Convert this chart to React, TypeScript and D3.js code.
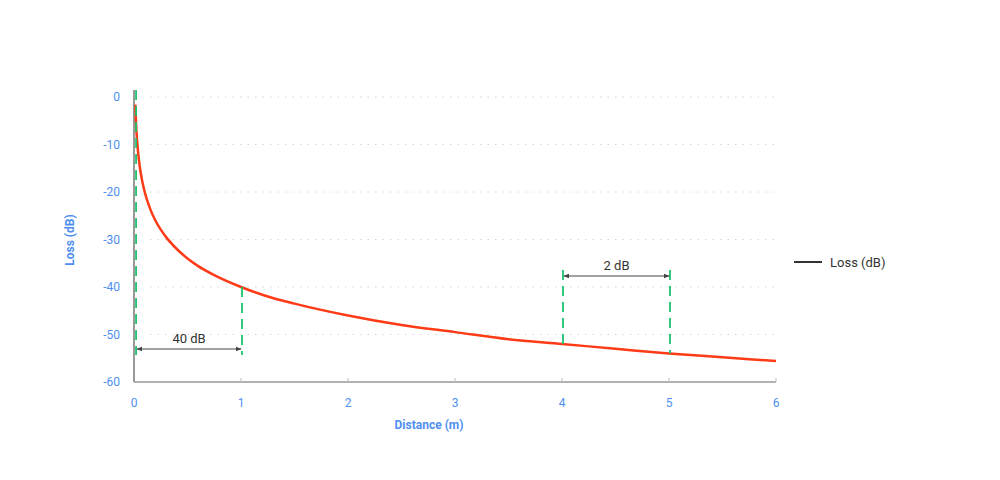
import * as d3 from 'd3'
import { useEffect, useRef } from 'react'

// distance (m) vs loss (dB)
const distances = [0.012, 0.02, 0.03, 0.05, 0.075, 0.1, 0.15, 0.2, 0.3, 0.4, 0.5, 0.6, 0.75, 1, 1.25, 1.5, 2, 2.5, 3, 3.5, 4, 4.5, 5, 5.5, 6]
const losses = [-1.6, -6, -9.5, -14, -17.5, -20, -23.5, -26, -29.5, -32, -34, -35.6, -37.5, -40, -42, -43.5, -46, -48, -49.5, -51, -52, -53, -54, -54.8, -55.6]
const xTicks = [0, 1, 2, 3, 4, 5, 6]
const yTicks = [0, -10, -20, -30, -40, -50, -60]
// annotation markers
const markerDist = [0.01, 1, 4, 5]
const markerLoss = [0, -40, -52, -54]

const FONT = 'Roboto, "Noto Sans", sans-serif'
const BLUE = '#4f8ff0'
const GREEN = '#1ec26e'
const RED = '#ff3a17'

const drawChart = (el: SVGSVGElement) => {
    const svg = d3.select(el)
    svg.selectAll('*').remove()

    const x = d3.scaleLinear().domain([0, 6]).range([134, 776])
    const y = d3.scaleLinear().domain([-60, 0]).range([382, 97])

    // grid
    svg.append('g')
        .selectAll('line')
        .data(yTicks.filter(t => t > -60))
        .join('line')
        .attr('x1', 150).attr('x2', x(6))
        .attr('y1', d => y(d)).attr('y2', d => y(d))
        .attr('stroke', '#d6d6d6')
        .attr('stroke-width', 1)
        .attr('stroke-dasharray', '1.5,6')

    // axes
    svg.append('line')
        .attr('x1', x(0)).attr('x2', x(0))
        .attr('y1', 90).attr('y2', y(-60))
        .attr('stroke', '#999').attr('stroke-width', 2)
    svg.append('line')
        .attr('x1', x(0)).attr('x2', x(6))
        .attr('y1', y(-60)).attr('y2', y(-60))
        .attr('stroke', '#999').attr('stroke-width', 1.5)

    svg.append('g')
        .selectAll('line')
        .data(xTicks.slice(1))
        .join('line')
        .attr('x1', d => x(d)).attr('x2', d => x(d))
        .attr('y1', y(-60) - 4).attr('y2', y(-60))
        .attr('stroke', '#bbb')

    svg.append('g')
        .selectAll('text')
        .data(xTicks)
        .join('text')
        .attr('x', d => x(d))
        .attr('y', 407)
        .attr('text-anchor', 'middle')
        .attr('font-family', FONT)
        .attr('font-size', 12)
        .attr('fill', BLUE)
        .text(d => d)

    svg.append('g')
        .selectAll('text')
        .data(yTicks)
        .join('text')
        .attr('x', 120)
        .attr('y', d => y(d) + 4)
        .attr('text-anchor', 'end')
        .attr('font-family', FONT)
        .attr('font-size', 12)
        .attr('fill', BLUE)
        .text(d => d)

    svg.append('text')
        .attr('x', 429).attr('y', 429)
        .attr('text-anchor', 'middle')
        .attr('font-family', FONT)
        .attr('font-size', 12)
        .attr('font-weight', 'bold')
        .attr('fill', BLUE)
        .text('Distance (m)')

    svg.append('text')
        .attr('transform', 'translate(74,240) rotate(-90)')
        .attr('text-anchor', 'middle')
        .attr('font-family', FONT)
        .attr('font-size', 12)
        .attr('font-weight', 'bold')
        .attr('fill', BLUE)
        .text('Loss (dB)')

    // loss curve
    const pts = distances.map((d, i) => [d, losses[i]] as [number, number])
    const line = d3.line<[number, number]>()
        .x(d => x(d[0]))
        .y(d => y(d[1]))
        .curve(d3.curveMonotoneX)
    svg.append('path')
        .datum(pts)
        .attr('fill', 'none')
        .attr('stroke', RED)
        .attr('stroke-width', 2.5)
        .attr('d', line)

    // green dashed markers
    const markerTops = [90, y(markerLoss[1]), 270, 270]
    const markerBottoms = [355, 355, y(markerLoss[2]), y(markerLoss[3])]
    svg.append('g')
        .selectAll('line')
        .data(markerDist)
        .join('line')
        .attr('x1', d => x(d) + 1).attr('x2', d => x(d) + 1)
        .attr('y1', (_, i) => markerTops[i])
        .attr('y2', (_, i) => markerBottoms[i])
        .attr('stroke', GREEN)
        .attr('stroke-width', 1.8)
        .attr('stroke-dasharray', '10,6')

    // dimension arrows
    const defs = svg.append('defs')
    defs.append('marker')
        .attr('id', 'arr')
        .attr('viewBox', '0 0 10 10')
        .attr('refX', 9).attr('refY', 5)
        .attr('markerWidth', 6).attr('markerHeight', 6)
        .attr('orient', 'auto-start-reverse')
        .append('path')
        .attr('d', 'M0,1 L10,5 L0,9 Z')
        .attr('fill', '#444')

    const dims = [
        { a: markerDist[0], b: markerDist[1], yy: 349, label: `${markerLoss[0] - markerLoss[1]} dB` },
        { a: markerDist[2], b: markerDist[3], yy: 276, label: `${markerLoss[2] - markerLoss[3]} dB` },
    ]
    dims.forEach(dm => {
        svg.append('line')
            .attr('x1', x(dm.a) + 2).attr('x2', x(dm.b))
            .attr('y1', dm.yy).attr('y2', dm.yy)
            .attr('stroke', '#444')
            .attr('stroke-width', 1)
            .attr('marker-start', 'url(#arr)')
            .attr('marker-end', 'url(#arr)')
        svg.append('text')
            .attr('x', (x(dm.a) + x(dm.b)) / 2 + 1)
            .attr('y', dm.yy - 6)
            .attr('text-anchor', 'middle')
            .attr('font-family', FONT)
            .attr('font-size', 13)
            .attr('fill', '#333')
            .text(dm.label)
    })

    // legend
    svg.append('line')
        .attr('x1', 794).attr('x2', 822)
        .attr('y1', 262).attr('y2', 262)
        .attr('stroke', '#333').attr('stroke-width', 2)
    svg.append('text')
        .attr('x', 830).attr('y', 267)
        .attr('font-family', FONT)
        .attr('font-size', 13)
        .attr('fill', '#333')
        .text('Loss (dB)')
}

const App = () => {
    const ref = useRef<SVGSVGElement>(null)
    useEffect(() => {
        if (ref.current) drawChart(ref.current)
    }, [])
    return (
        <svg ref={ref} width={1000} height={480}
            style={{ position: 'absolute', left: 0, top: 0, background: '#fff' }} />
    )
}

export default App
